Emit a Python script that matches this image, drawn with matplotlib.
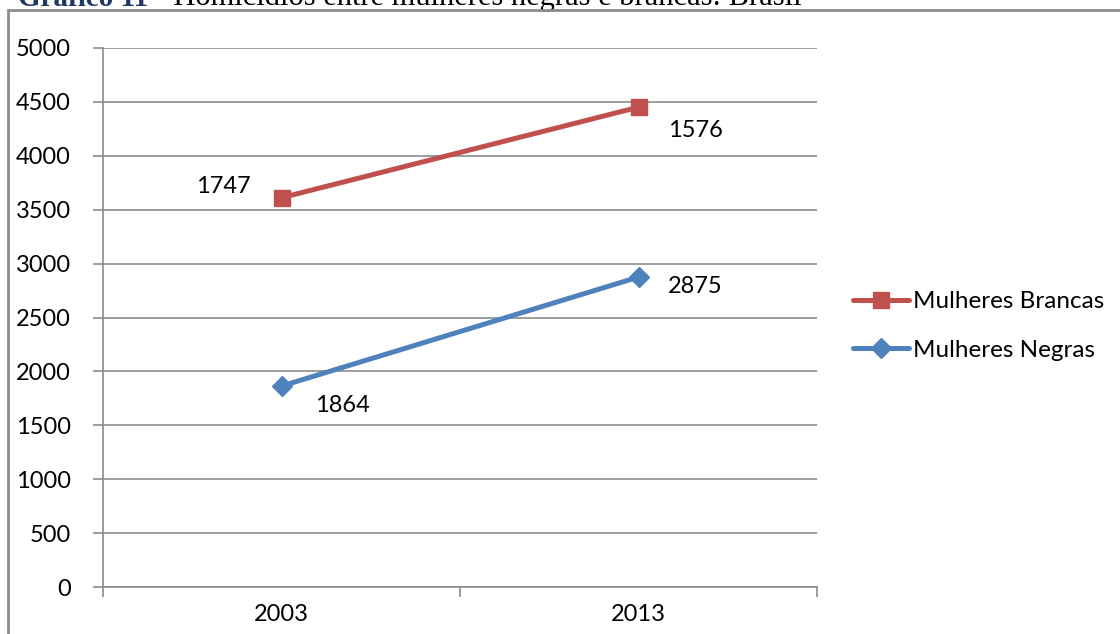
import matplotlib.pyplot as plt
from matplotlib.patches import Rectangle
import numpy as np

anos = ['2003', '2013']
negras = [1864, 2875]
brancas = [1747, 1576]
yticks = np.arange(0, 5001, 500)

plt.rcParams['font.family'] = ['Lato', 'DejaVu Sans']

fig = plt.figure(figsize=(11.2, 6.34), dpi=100)
ax = fig.add_axes([103/1120, 1-587/634, (817-103)/1120, (587-48)/634])

x = np.arange(len(anos))
topo = np.array(negras) + np.array(brancas)  # stacked series

grid_c = '#8c8c8c'
ax.plot(x, topo, color='#C0504D', lw=3.6, marker='s', ms=12,
        solid_capstyle='round', label='Mulheres Brancas', zorder=3)
ax.plot(x, negras, color='#4F81BD', lw=3.6, marker='D', ms=10,
        solid_capstyle='round', label='Mulheres Negras', zorder=3)

# data labels
offs_b = [(-42, 8), (41, -17)]
offs_n = [(44, -14), (41, -7)]
for i in range(len(anos)):
    ax.annotate(str(brancas[i]), (x[i], topo[i]), xytext=offs_b[i],
                textcoords='offset points', ha='center', va='center', fontsize=17)
    ax.annotate(str(negras[i]), (x[i], negras[i]), xytext=offs_n[i],
                textcoords='offset points', ha='center', va='center', fontsize=17)

ax.set_xlim(-0.5, 1.5)
ax.set_ylim(0, 5000)
ax.set_yticks(yticks)
ax.set_yticklabels([str(v) for v in yticks], fontsize=17)
ax.set_xticks([-0.5, 0.5, 1.5])
ax.set_xticklabels([])
ax.set_xticks(x, minor=True)
ax.set_xticklabels(anos, minor=True, fontsize=17)
ax.tick_params(axis='x', which='minor', length=0, pad=12)
ax.tick_params(axis='x', which='major', length=7, color=grid_c, width=1.2)
ax.tick_params(axis='y', length=7, color=grid_c, width=1.2, pad=16)
ax.grid(axis='y', color=grid_c, lw=1.2)
ax.set_axisbelow(True)
for s in ['top', 'right']:
    ax.spines[s].set_visible(False)
for s in ['left', 'bottom']:
    ax.spines[s].set_color(grid_c)
    ax.spines[s].set_linewidth(1.2)

ax.legend(loc='center left', bbox_to_anchor=(853/1120, 1-326/634),
          bbox_transform=fig.transFigure, frameon=False, fontsize=17.5,
          handlelength=2.3, handletextpad=0.15, borderpad=0, borderaxespad=0,
          labelspacing=1.15)

# outer chart border
fig.patches.append(Rectangle((8/1120, -0.1), 1.2, 1-10/634+0.1,
                             transform=fig.transFigure, fill=False,
                             edgecolor='#8c8c8c', lw=2))

# caption above the chart
t1 = fig.text(18/1120, 1-6/634, 'Gráfico 11', fontsize=21, fontweight='bold',
              color='#1F3864', family='Liberation Serif', va='baseline')
ax.annotate(' - Homicídios entre mulheres negras e brancas: Brasil',
            xy=(1, 0), xycoords=t1, va='bottom', ha='left', fontsize=22,
            family='Liberation Serif', annotation_clip=False)

fig.savefig('out.png', dpi=100)
